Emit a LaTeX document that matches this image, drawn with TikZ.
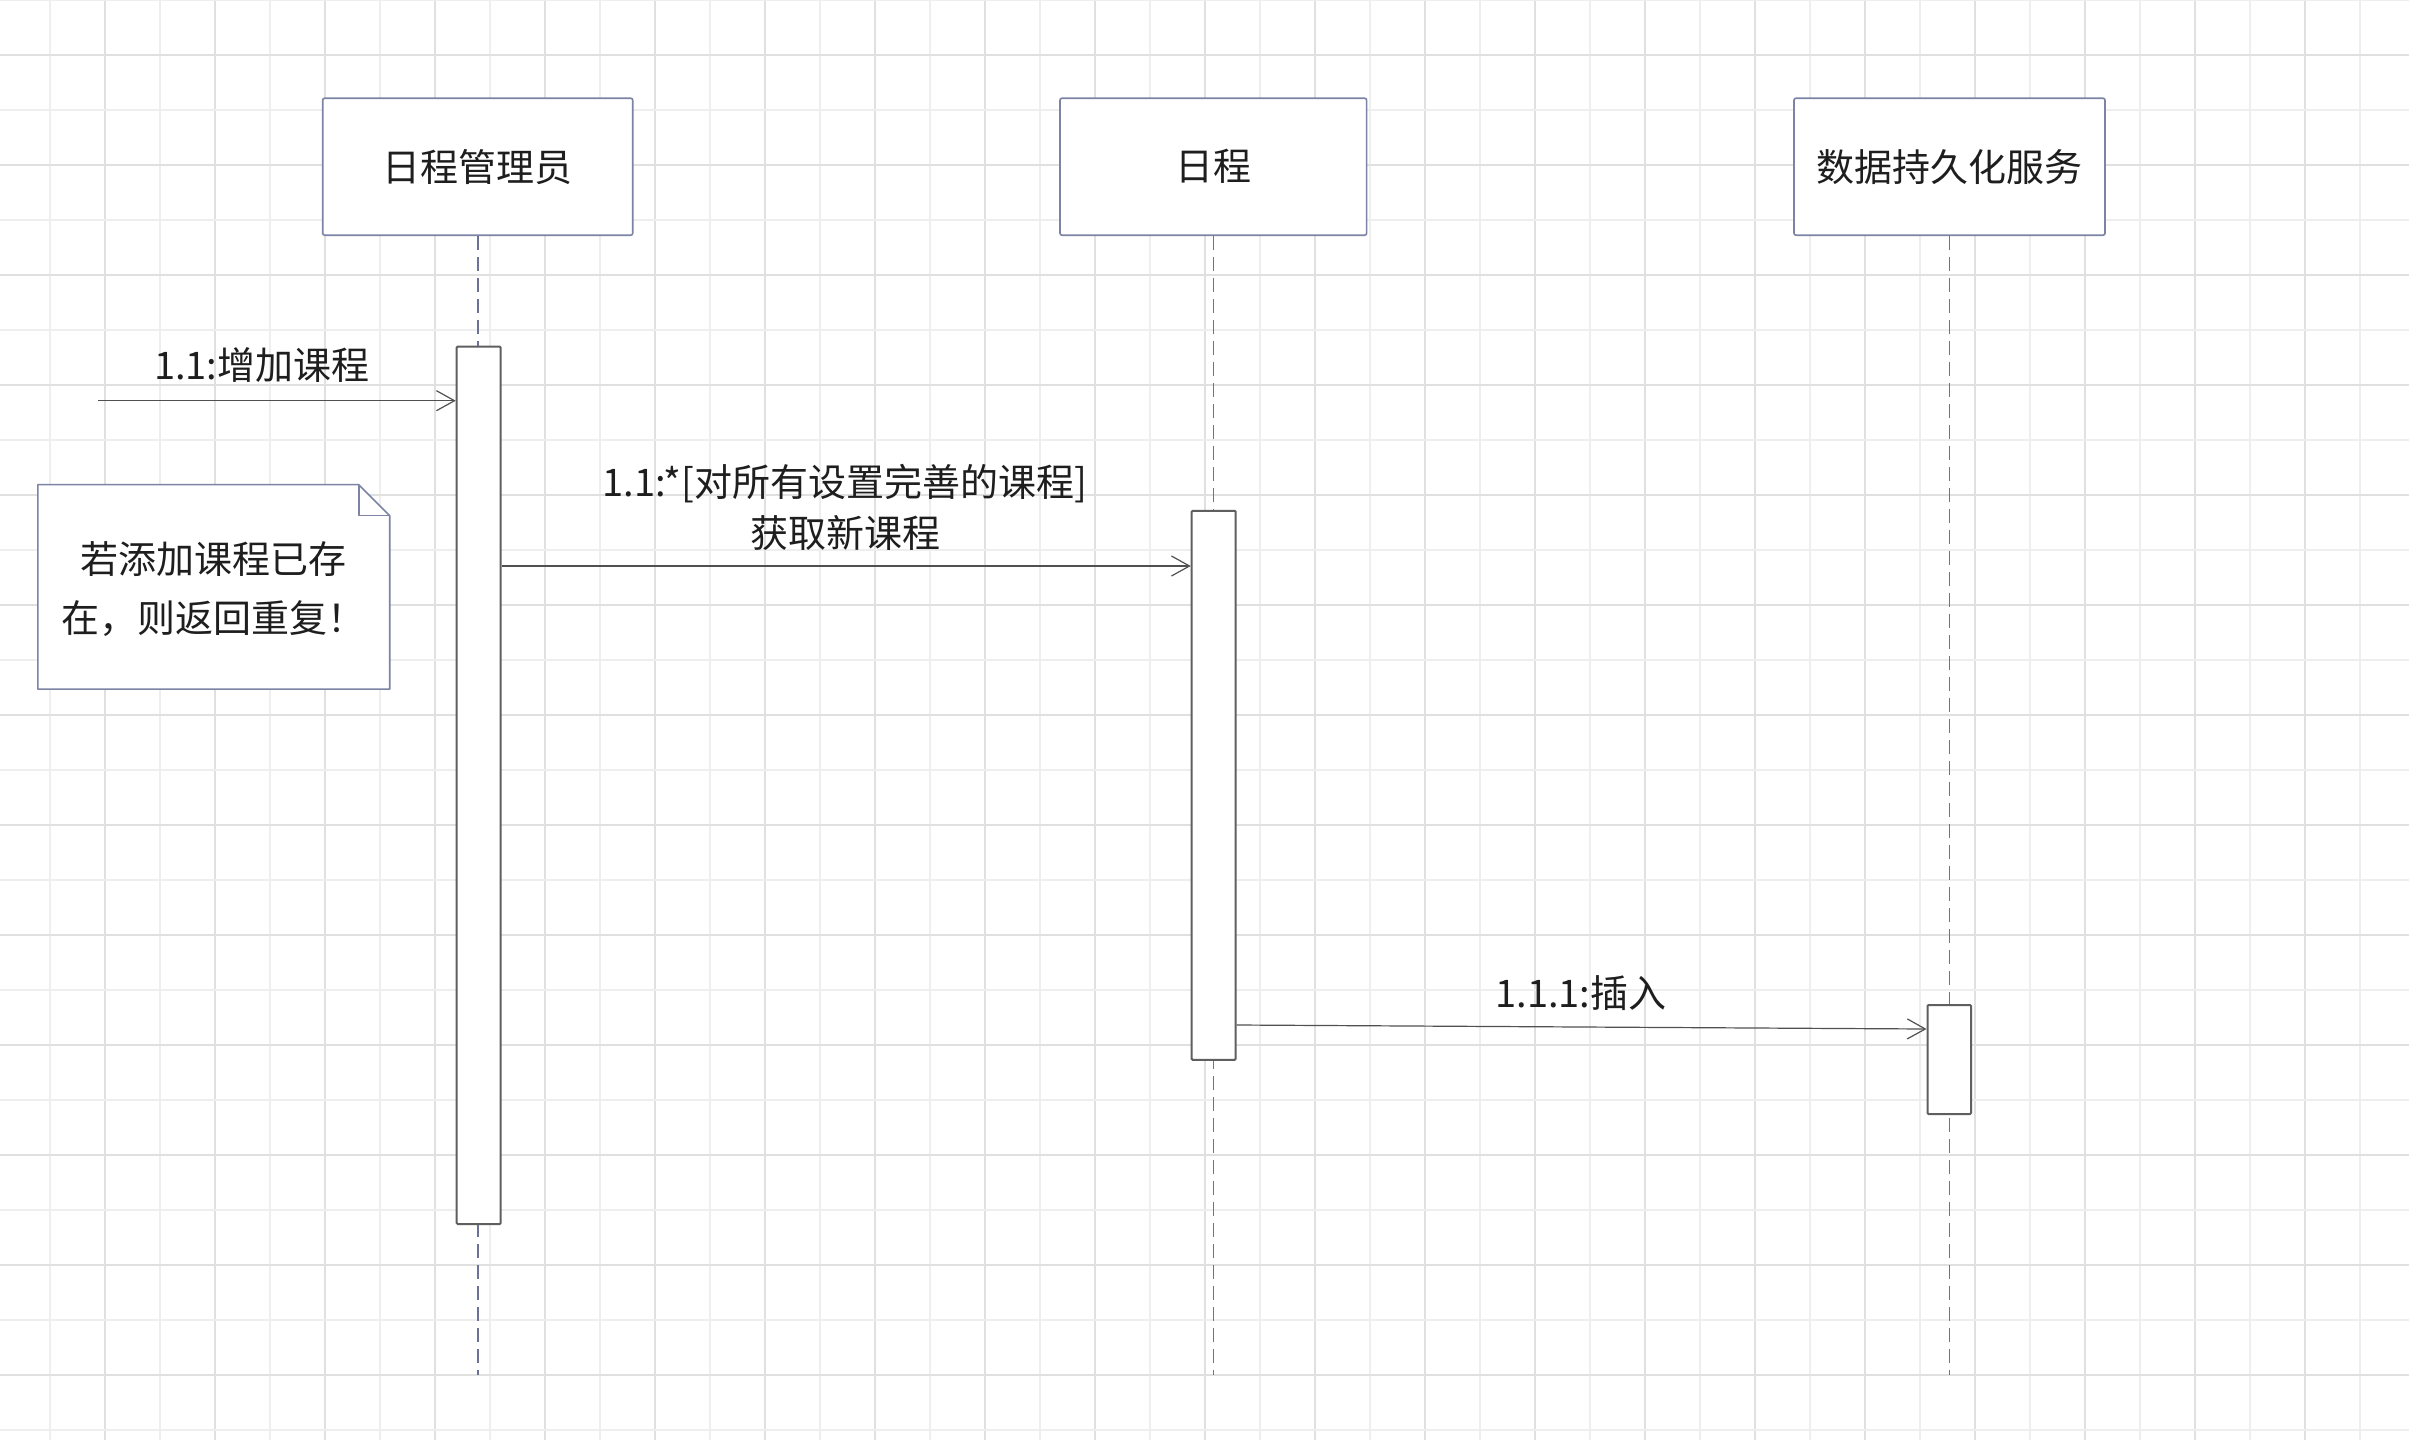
\documentclass[tikz,border=0pt]{standalone}
\usepackage{fontspec}
\setmainfont{Noto Sans CJK SC}
\usetikzlibrary{arrows.meta,fit}
\definecolor{gridA}{RGB}{238,238,238}
\definecolor{gridB}{RGB}{224,224,224}
\definecolor{hdrline}{RGB}{125,131,165}
\definecolor{lifecol}{RGB}{108,114,150}
\definecolor{actline}{RGB}{95,95,95}
\definecolor{msgline}{RGB}{80,80,80}
\definecolor{txt}{RGB}{30,30,30}
\tikzset{
  hdr/.style={draw=hdrline, line width=0.8pt, fill=white, rounded corners=1pt,
    minimum width=155pt, minimum height=68.5pt, inner sep=0pt, text=txt,
    font=\fontsize{19pt}{22pt}\selectfont},
  life/.style={draw=lifecol, line width=0.8pt, dash pattern=on 7pt off 3.5pt},
  act/.style={draw=actline, fill=white, line width=1pt, inner sep=0pt, rounded corners=0.5pt},
  msg/.style={draw=msgline, line width=0.6pt, -{Straight Barb[length=9pt,width=10pt]}},
  lbl/.style={text=txt, inner sep=0pt, font=\fontsize{19pt}{25.5pt}\selectfont},
  notebox/.style={draw=hdrline, line width=0.8pt, fill=white, line join=round}
}
\begin{document}
\begin{tikzpicture}[x=0.5pt,y=-0.5pt]
\useasboundingbox (0,0) rectangle (2409,1440);
\fill[white] (0,0) rectangle (2409,1440);
% grid
\foreach \xx [count=\i] in {50,105,...,2360}{
  \ifodd\i \def\gc{gridA}\else \def\gc{gridB}\fi
  \draw[\gc, line width=1pt] (\xx,0) -- (\xx,1440);
}
\foreach \yy [count=\i] in {0,55,...,1430}{
  \ifodd\i \def\gc{gridA}\else \def\gc{gridB}\fi
  \draw[\gc, line width=1pt] (0,\yy) -- (2409,\yy);
}
% lifeline heads
\node[hdr] (mgr) at (477.7,166.7) {日程管理员};
\node[hdr, minimum width=153.3pt] (sch) at (1213.3,166.7) {日程};
\node[hdr, minimum width=155.5pt] (dps) at (1949.5,166.7) {数据持久化服务};
\coordinate (lend) at (0,1375);
\draw[life] (mgr.south) -- (mgr.south |- lend);
\draw[life] (sch.south) -- (sch.south |- lend);
\draw[life] (dps.south) -- (dps.south |- lend);
% activations
\node[act, fit={(456.7,346.7) (500.7,1224)}] (a1) {};
\node[act, fit={(1191.7,510.8) (1235.7,1059.8)}] (a2) {};
\node[act, fit={(1927.5,1005) (1971,1114)}] (a3) {};
% note
\node[inner sep=0pt, fit={(38.3,485) (389.3,688.7)}] (note) {};
\path[notebox] (note.north west) -- ([xshift=-15.5pt]note.north east)
  -- ([yshift=-15.5pt]note.north east) -- (note.south east)
  -- (note.south west) -- cycle;
\draw[notebox, fill=none] ([xshift=-15.5pt]note.north east) |- ([yshift=-15.5pt]note.north east);
\node[lbl, align=center, font=\fontsize{19pt}{29.5pt}\selectfont] (notetxt) at (213.8,589.5) {若添加课程已存\\在，则返回重复！};
% messages
\coordinate (s1) at (98,400.7);
\draw[msg] (s1) -- (s1 -| a1.west);
\node[lbl] (l1) at (261.7,365) {1.1:增加课程};
\coordinate (y2) at (0,566);
\draw[msg] (a1.east |- y2) -- (a2.west |- y2);
\node[lbl, align=center] (l2) at (845,507.5) {1.1:*[对所有设置完善的课程]\\获取新课程};
\coordinate (y3a) at (0,1025);
\coordinate (y3b) at (0,1029);
\draw[msg] (a2.east |- y3a) -- (a3.west |- y3b);
\node[lbl] (l3) at (1581,993) {1.1.1:插入};
\end{tikzpicture}
\end{document}
